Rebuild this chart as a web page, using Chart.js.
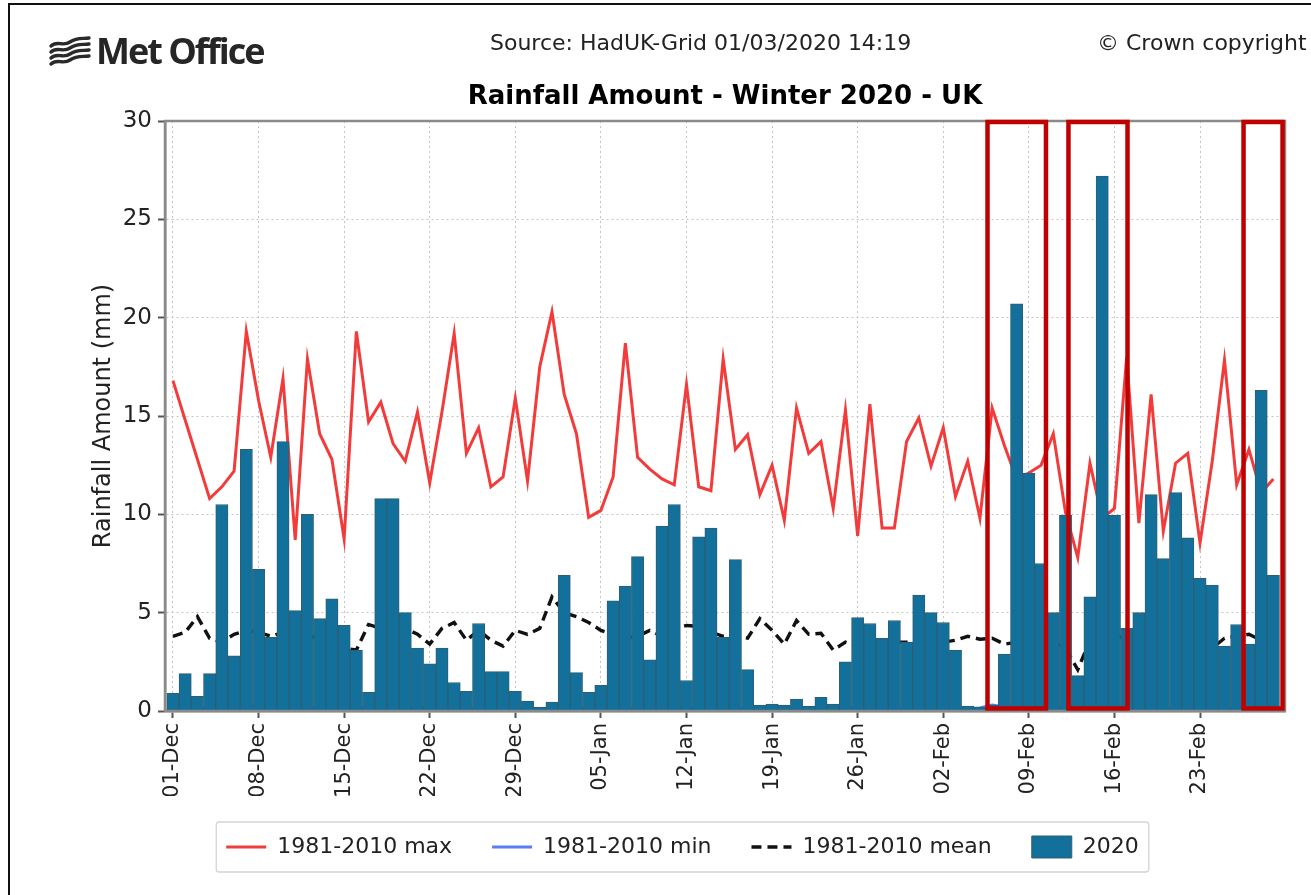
<!DOCTYPE html>
<html><head><meta charset="utf-8">
<script src="https://cdn.jsdelivr.net/npm/chart.js@4.4.1/dist/chart.umd.min.js"></script>
<style>
html,body{margin:0;padding:0;background:#fff;width:1311px;height:895px;overflow:hidden;}
#wrap{position:relative;width:1311px;height:895px;background:#fff;}
canvas{position:absolute;left:0;top:0;}
#frame{position:absolute;left:8px;top:3px;width:1303px;height:892px;border-top:2px solid #111;border-left:2px solid #111;box-sizing:border-box;pointer-events:none;}
.hdr{position:absolute;font-family:'DejaVu Sans',sans-serif;font-size:22px;color:#222;white-space:nowrap;line-height:1;}
#logo{position:absolute;left:48px;top:26px;display:flex;align-items:center;}
#logo span{font-family:'Open Sans',sans-serif;font-weight:700;font-size:36px;letter-spacing:-2px;color:#262626;margin-left:4px;}
</style></head>
<body><div id="wrap"><canvas id="c" width="1311" height="895"></canvas>
<div id="frame"></div>
<div id="logo"><svg width="44" height="32" viewBox="0 0 44 32"><g fill="none" stroke="#2a2a2a" stroke-width="3.4" stroke-linecap="round"><path d="M3 11 C9 5,15 12,22 7 S35 4,41 3"/><path d="M3 17 C9 11,15 18,22 13 S35 10,41 9"/><path d="M3 23 C9 17,15 24,22 19 S35 16,41 15"/><path d="M3 29 C9 23,15 30,22 25 S35 22,41 21"/></g></svg><span>Met Office</span></div>
<div class="hdr" style="left:490px;top:32px">Source: HadUK-Grid 01/03/2020 14:19</div>
<div class="hdr" style="left:1097px;top:32px">© Crown copyright</div>
</div>
<script>
// ---------- data ----------
const monthDays = [['Dec', 31], ['Jan', 31], ['Feb', 29]];
const days = [];
monthDays.forEach(([m, n]) => { for (let d = 1; d <= n; d++) days.push(String(d).padStart(2, '0') + '-' + m); });

const tickLabels = ['01-Dec','08-Dec','15-Dec','22-Dec','29-Dec','05-Jan','12-Jan','19-Jan','26-Jan','02-Feb','09-Feb','16-Feb','23-Feb'];

const rain2020 = [
  0.9, 1.9, 0.75, 1.9, 10.5, 2.8, 13.3, 7.2, 3.75, 13.7,
  5.1, 10.0, 4.7, 5.7, 4.35, 3.1, 0.95, 10.8, 10.8, 5.0,
  3.2, 2.4, 3.2, 1.45, 1.0, 4.45, 2.0, 2.0, 1.0, 0.5,
  0.2, 0.45, 6.9, 1.95, 0.95, 1.3, 5.6, 6.35, 7.85, 2.6,
  9.4, 10.5, 1.55, 8.85, 9.3, 3.75, 7.7, 2.1, 0.3, 0.35,
  0.3, 0.6, 0.25, 0.7, 0.35, 2.5, 4.75, 4.45, 3.7, 4.6,
  3.5, 5.9, 5.0, 4.5, 3.1, 0.25, 0.2, 0.3, 2.9, 20.7,
  12.1, 7.5, 5.0, 9.95, 1.8, 5.8, 27.2, 9.95, 4.2, 5.0,
  11.0, 7.75, 11.1, 8.8, 6.75, 6.4, 3.3, 4.4, 3.4, 16.3,
  6.9
];
const max8110 = [
  16.8, 14.8, 12.8, 10.8, 11.4, 12.2, 19.3, 15.8, 12.9, 16.9,
  8.7, 17.9, 14.1, 12.8, 8.75, 19.3, 14.7, 15.7, 13.6, 12.7,
  15.2, 11.6, 15.2, 19.2, 13.1, 14.4, 11.4, 11.9, 15.9, 11.7,
  17.5, 20.3, 16.1, 14.1, 9.85, 10.2, 11.9, 18.7, 12.9, 12.3,
  11.8, 11.5, 16.6, 11.4, 11.2, 17.9, 13.3, 14.05, 11.0, 12.5,
  9.7, 15.4, 13.1, 13.7, 10.3, 15.3, 8.9, 15.6, 9.3, 9.3,
  13.7, 14.9, 12.45, 14.4, 10.9, 12.7, 9.8, 15.4, 13.5, 11.8,
  12.1, 12.5, 14.1, 10.1, 7.8, 12.6, 9.8, 10.3, 18.0, 9.55,
  16.1, 9.15, 12.6, 13.1, 8.55, 12.7, 17.85, 11.5, 13.3, 11.1,
  11.8
];
const min8110 = [
  0.1, 0.2, 0.1, 0.1, 0.3, 0.2, 0.3, 0.2, 0.1, 0.2,
  0.3, 0.1, 0.2, 0.1, 0.1, 0.2, 0.1, 0.3, 0.2, 0.1,
  0.2, 0.1, 0.1, 0.2, 0.1, 0.1, 0.2, 0.1, 0.1, 0.1,
  0.0, 0.1, 0.2, 0.1, 0.1, 0.1, 0.2, 0.1, 0.1, 0.2,
  0.1, 0.3, 0.1, 0.1, 0.2, 0.1, 0.1, 0.1, 0.1, 0.1,
  0.1, 0.1, 0.1, 0.1, 0.1, 0.2, 0.1, 0.1, 0.2, 0.1,
  0.1, 0.1, 0.2, 0.1, 0.1, 0.1, 0.15, 0.3, 0.2, 0.3,
  0.2, 0.1, 0.1, 0.2, 0.1, 0.2, 0.3, 0.1, 0.1, 0.1,
  0.2, 0.1, 0.1, 0.2, 0.1, 0.1, 0.1, 0.1, 0.2, 0.1,
  0.1
];
const mean8110 = [
  3.8, 4.0, 4.8, 3.7, 3.5, 3.9, 4.1, 4.0, 3.8, 4.0,
  4.2, 3.9, 3.6, 3.4, 3.2, 3.1, 4.4, 4.2, 4.3, 4.2,
  3.9, 3.4, 4.2, 4.5, 3.6, 4.1, 3.6, 3.3, 4.1, 3.9,
  4.2, 5.8, 5.0, 4.8, 4.5, 4.1, 3.9, 3.7, 3.8, 4.1,
  3.8, 4.2, 4.35, 4.3, 4.0, 3.8, 3.8, 3.7, 4.7, 4.1,
  3.4, 4.6, 3.9, 3.95, 3.1, 3.5, 3.3, 3.6, 3.4, 3.5,
  3.5, 3.7, 3.6, 3.5, 3.6, 3.8, 3.65, 3.7, 3.4, 3.5,
  3.6, 3.8, 3.5, 3.2, 2.1, 3.6, 3.7, 3.9, 3.6, 3.8,
  3.6, 3.9, 3.7, 3.5, 3.6, 3.2, 3.7, 3.8, 3.9, 3.6,
  3.7
];
// highlighted periods (in day index units) and their value span
const highlightDays = [[66.62, 71.4], [73.24, 78.07], [87.56, 90.75]];
const highlightSpan = [0.13, 29.95];

const xy = arr => arr.map((v, i) => ({ x: i, y: v }));

// ---------- plugins ----------
const spines = {
  id: 'spines',
  afterDatasetsDraw(chart) {
    const { ctx, chartArea: a } = chart;
    ctx.save();
    ctx.strokeStyle = '#8a8a8a';
    ctx.lineWidth = 2.5;
    ctx.strokeRect(a.left, a.top, a.right - a.left, a.bottom - a.top);
    ctx.restore();
  }
};
const highlights = {
  id: 'highlights',
  afterDraw(chart) {
    const { ctx } = chart, xs = chart.scales.x, ys = chart.scales.y;
    ctx.save();
    ctx.strokeStyle = '#c00000';
    ctx.lineWidth = 4.5;
    highlightDays.forEach(([a, b]) => {
      const x1 = xs.getPixelForValue(a), x2 = xs.getPixelForValue(b);
      const y1 = ys.getPixelForValue(highlightSpan[1]), y2 = ys.getPixelForValue(highlightSpan[0]);
      ctx.strokeRect(x1, y1, x2 - x1, y2 - y1);
    });
    ctx.restore();
  }
};
const legendFrame = {
  id: 'legendFrame',
  afterDraw(chart) {
    const lg = chart.legend;
    if (!lg || !lg.legendHitBoxes || !lg.legendHitBoxes.length) return;
    const hb = lg.legendHitBoxes, { ctx } = chart;
    const l = Math.min(...hb.map(h => h.left)) - 10;
    const r = Math.max(...hb.map(h => h.left + h.width)) + 10;
    const cy = hb[0].top + hb[0].height / 2;
    const t = cy - 25, b = cy + 25;
    ctx.save();
    ctx.strokeStyle = '#d4d4d4';
    ctx.lineWidth = 1.3;
    ctx.beginPath();
    ctx.roundRect(l, t, r - l, b - t, 3);
    ctx.stroke();
    ctx.restore();
  }
};

Chart.defaults.font.family = "'DejaVu Sans', sans-serif";
Chart.defaults.color = '#222';

new Chart(document.getElementById('c'), {
  type: 'bar',
  data: {
    datasets: [
      { type: 'line', label: '1981-2010 max', data: xy(max8110), borderColor: '#f23c3c', backgroundColor: '#f23c3c',
        borderWidth: 3, pointRadius: 0, pointStyle: 'line', tension: 0, order: 3 },
      { type: 'line', label: '1981-2010 min', data: xy(min8110), borderColor: '#5a7cf5', backgroundColor: '#5a7cf5',
        borderWidth: 3, pointRadius: 0, pointStyle: 'line', tension: 0, order: 4 },
      { type: 'line', label: '1981-2010 mean', data: xy(mean8110), borderColor: '#111', backgroundColor: '#111',
        borderWidth: 3.4, borderDash: [10, 6], pointRadius: 0, pointStyle: 'line', tension: 0, order: 2 },
      { type: 'bar', label: '2020', data: xy(rain2020), backgroundColor: '#13709a', borderColor: '#2e5e75',
        borderWidth: 1, barPercentage: 1, categoryPercentage: 1, pointStyle: 'rect', order: 0 }
    ]
  },
  options: {
    responsive: false,
    animation: false,
    layout: { padding: { left: 80, right: 26, top: 70, bottom: 27 } },
    plugins: {
      tooltip: { enabled: false },
      title: {
        display: true, text: 'Rainfall Amount - Winter 2020 - UK', fullSize: false,
        font: { size: 26, weight: 'bold' }, color: '#000', padding: { top: 12, bottom: 7.8 }
      },
      legend: {
        position: 'bottom',
        labels: {
          usePointStyle: true, pointStyleWidth: 40, boxWidth: 44, boxHeight: 22,
          padding: 40, font: { size: 22 }, color: '#222',
          generateLabels: chart => {
            const items = Chart.defaults.plugins.legend.labels.generateLabels(chart);
            items.forEach(it => {
              const ds = chart.data.datasets[it.datasetIndex];
              if (ds.type === 'line') {
                it.lineWidth = ds.borderWidth;
                it.lineDash = ds.borderDash || [];
                it.strokeStyle = ds.borderColor;
                it.pointStyle = 'line';
              } else {
                it.pointStyle = 'rect';
                it.lineWidth = 1;
              }
            });
            return items;
          },
          sort: (a, b) => a.datasetIndex - b.datasetIndex
        }
      }
    },
    scales: {
      x: {
        type: 'linear', min: -0.65, max: 90.95, offset: false,
        afterBuildTicks: s => { s.ticks = tickLabels.map(l => ({ value: days.indexOf(l) })); },
        afterFit: s => { s.height = 85; },
        ticks: { autoSkip: false, minRotation: 90, maxRotation: 90, font: { size: 21 }, color: '#222', padding: 5,
          callback: v => days[v] },
        grid: { offset: false, color: '#c4c4c4', lineWidth: 1, tickLength: 7, tickColor: '#555', tickWidth: 2 },
        border: { display: true, color: '#8a8a8a', width: 2.5, dash: [2, 3] }
      },
      y: {
        min: 0, max: 30,
        afterFit: s => { s.width = 85; },
        ticks: { stepSize: 5, font: { size: 23 }, color: '#222', padding: 6 },
        grid: { color: '#c4c4c4', lineWidth: 1, tickLength: 7, tickColor: '#555', tickWidth: 2 },
        border: { display: true, color: '#8a8a8a', width: 2.5, dash: [2, 3] },
        title: { display: true, text: 'Rainfall Amount (mm)', font: { size: 24 }, color: '#222', padding: { top: 9, bottom: 0 } }
      }
    }
  },
  plugins: [spines, highlights, legendFrame]
});
</script>
</body></html>
